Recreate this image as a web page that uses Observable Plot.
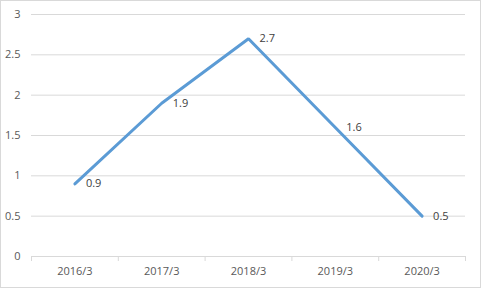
<!DOCTYPE html>
<html>
<head>
<meta charset="utf-8">
<script src="https://cdn.jsdelivr.net/npm/d3@7"></script>
<script src="https://cdn.jsdelivr.net/npm/@observablehq/plot@0.6"></script>
<style>
  body { margin: 0; background: #fff; }
  #chart svg { display: block; outline: 1px solid #d9d9d9; outline-offset: -1px; }
</style>
</head>
<body>
<div id="chart"></div>
<script>
const categories = ["2016/3", "2017/3", "2018/3", "2019/3", "2020/3"];
const values = [0.9, 1.9, 2.7, 1.6, 0.5];
const yTicks = [0, 0.5, 1, 1.5, 2, 2.5, 3];

const table = categories.map((c, i) => ({i, c, v: values[i]}));
const boundaries = categories.map((_, i) => i - 0.5).concat([categories.length - 0.5]);

const font = "'Open Sans', 'Noto Sans', sans-serif";
const textColor = "#595959";
const gridColor = "#d9d9d9";

const chart = Plot.plot({
  width: 481,
  height: 288,
  marginLeft: 31,
  marginRight: 16,
  marginTop: 14,
  marginBottom: 32,
  style: {fontFamily: font, fontSize: "11px", color: textColor, background: "#fff"},
  x: {type: "linear", domain: [-0.5, categories.length - 0.5], axis: null, label: null},
  y: {domain: [0, 3], axis: null, label: null},
  marks: [
    Plot.ruleY(yTicks, {stroke: gridColor, strokeWidth: 1}),
    Plot.axisX(boundaries, {tickSize: 5, tickFormat: () => "", stroke: gridColor, anchor: "bottom", label: null}),
    Plot.axisY(yTicks, {tickSize: 0, tickPadding: 11, tickFormat: d => String(d), fill: textColor, fontSize: 11, anchor: "left", label: null}),
    Plot.text(table, {x: "i", y: () => 0, text: "c", dy: 15, fill: textColor, fontSize: 11}),
    Plot.line(table, {x: "i", y: "v", stroke: "#5B9BD5", strokeWidth: 3, strokeLinecap: "round", strokeLinejoin: "miter"}),
    Plot.text(table, {x: "i", y: "v", text: d => String(d.v), dx: 11, textAnchor: "start", fill: "#404040", fontSize: 11})
  ]
});
document.getElementById("chart").appendChild(chart);
</script>
</body>
</html>
